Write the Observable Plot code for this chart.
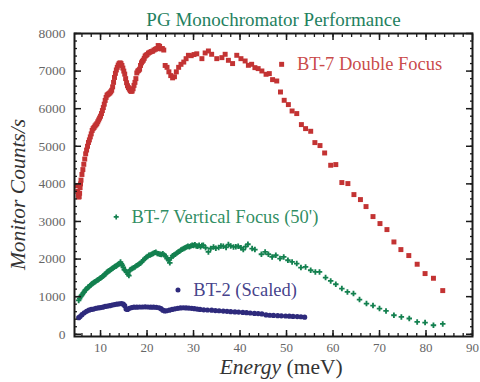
<!DOCTYPE html>
<html><head><meta charset="utf-8">
<script src="https://cdn.jsdelivr.net/npm/d3@7"></script>
<script src="https://cdn.jsdelivr.net/npm/@observablehq/plot@0.6"></script>
<style>body{margin:0;background:#fff}</style>
</head><body><div id="chart"></div>
<script>
// BT-7 Double Focus
const doubleE = [5.0,5.1,5.2,5.3,5.4,5.5,5.6,5.7,5.8,6.0,6.2,6.4,6.6,6.8,7.0,7.2,7.4,7.6,7.8,8.0,8.2,8.4,8.6,8.8,9.0,9.2,9.4,9.6,9.8,10.0,10.2,10.4,10.6,10.8,11.0,11.2,11.4,11.6,11.8,12.0,12.2,12.4,12.6,12.8,13.0,13.2,13.4,13.6,13.8,14.0,14.2,14.4,14.6,14.8,15.0,15.2,15.4,15.6,15.8,16.0,16.2,16.4,16.6,16.8,17.0,17.2,17.4,17.6,17.8,18.0,18.2,18.4,18.6,18.8,19.0,19.2,19.4,19.6,19.8,20.0,20.3,20.6,20.9,21.2,21.5,21.8,22.1,22.4,22.7,23.0,23.3,23.6,
  23.9,24.3,24.7,25.1,25.5,25.9,26.3,26.8,27.3,27.9,28.4,28.9,29.5,30.1,30.7,31.8,32.5,33.2,33.9,35.0,36.1,36.8,37.5,38.4,39.3,40.2,41.1,41.8,42.5,43.2,43.9,44.7,45.6,46.3,47.0,47.9,48.7,49.5,50.4,51.2,52.2,53.2,54.1,55.2,56.1,57.2,58.2,59.5,60.6,61.9,63.2,64.5,65.9,67.1,68.6,70.1,71.6,73.1,74.6,76.3,78.1,79.8,81.6,83.6];
const doubleC = [3950,3800,3700,3650,3660,3750,3900,4000,4100,4250,4380,4520,4660,4800,4900,5000,5100,5170,5250,5330,5420,5470,5500,5540,5570,5600,5650,5700,5750,5800,5870,5950,6030,6120,6220,6300,6360,6380,6400,6420,6450,6490,6580,6700,6830,6940,7030,7100,7160,7200,7220,7200,7150,7080,7000,6920,6800,6690,6610,6560,6520,6480,6460,6470,6530,6620,6700,6800,6950,7000,7020,7050,7150,7220,7260,7290,7340,7400,7420,7440,7480,7500,7520,7530,7560,7580,7600,7680,7660,7590,7600,7560,
  7150,7100,6980,6880,6820,6850,6980,7100,7180,7240,7330,7420,7410,7440,7460,7331,7482,7535,7447,7331,7358,7447,7287,7200,7420,7331,7269,7154,7181,7092,7066,7003,6915,6933,6773,6737,6444,6223,6109,5939,5870,5577,5470,5399,5098,5019,4822,4495,4513,4035,4008,3715,3582,3396,3130,2944,2784,2455,2252,2093,1862,1614,1489,1161];

// BT-7 Vertical Focus (50')
const verticalE = [5.3,5.5,5.7,5.9,6.1,6.3,6.5,6.7,6.9,7.1,7.3,7.5,7.7,7.9,8.1,8.3,8.5,8.7,8.9,9.1,9.3,9.5,9.7,9.9,10.1,10.3,10.5,10.7,10.9,11.1,11.3,11.5,11.7,11.9,12.1,12.3,12.5,12.7,12.9,13.1,13.3,13.5,13.7,13.9,14.1,14.3,14.5,14.7,14.9,15.1,15.3,15.6,15.9,16.1,16.3,16.5,16.8,17.1,17.4,17.7,18.0,18.3,18.6,18.9,19.2,19.5,19.8,20.1,20.4,20.7,21.0,21.3,21.6,21.9,22.2,22.5,22.8,23.1,23.4,23.7,24.0,24.3,24.6,24.9,25.2,25.5,25.8,26.1,26.4,26.7,27.0,27.3,27.6,27.9,28.2,28.5,28.8,29.1,29.4,29.7,30.0,30.3,30.6,30.9,31.2,31.5,31.8,
  32.1,32.6,33.2,33.7,34.3,34.8,35.4,35.9,36.4,37.0,37.5,38.0,38.6,39.1,39.6,40.2,40.7,41.2,41.7,42.6,43.2,44.6,45.4,46.1,46.9,47.7,48.6,49.4,50.3,51.2,52.2,53.1,54.1,55.2,56.2,57.1,58.4,59.5,60.6,61.9,63.1,64.4,65.7,67.2,68.6,70.0,71.4,73.1,74.7,76.4,78.1,79.8,81.6,83.6];
const verticalC = [900,950,1000,1030,1060,1100,1130,1170,1190,1220,1250,1260,1290,1310,1340,1350,1370,1390,1400,1420,1440,1450,1470,1490,1500,1520,1540,1560,1590,1610,1640,1660,1680,1690,1710,1730,1750,1760,1780,1800,1810,1830,1850,1860,1880,1920,1870,1830,1780,1720,1700,1650,1600,1560,1700,1720,1750,1770,1790,1820,1840,1870,1890,1930,1970,2010,2040,2070,2100,2110,2130,2150,2170,2180,2150,2140,2130,2120,2140,2110,2080,2010,1980,1900,2030,2090,2110,2130,2160,2190,2210,2240,2260,2280,2300,2320,2340,2330,2350,2370,2360,2380,2350,2340,2370,2330,2360,
  2367,2300,2189,2280,2322,2290,2306,2350,2340,2310,2386,2350,2322,2330,2340,2300,2252,2330,2394,2279,2252,2128,2189,2128,2056,2101,2013,2056,1968,1923,1880,1774,1790,1702,1657,1657,1508,1418,1330,1215,1125,1082,922,816,763,683,620,505,460,418,327,311,239,274];

// BT-2 (Scaled)
const bt2E = [5.3,5.6,6.0,6.5,7.0,7.5,8.0,8.5,9.0,9.5,10.0,10.5,11.0,11.5,12.0,12.5,13.0,13.5,14.0,14.5,14.9,15.2,15.5,15.8,16.2,16.7,17.2,17.8,18.4,19.0,19.6,20.2,20.8,21.4,22.0,22.6,23.0,23.4,23.8,24.2,24.8,25.4,26.0,26.6,27.2,27.8,28.4,29.0,29.6,30.2,30.8,31.4,
  32.2,33.0,33.9,34.7,35.5,36.4,37.2,38.0,38.9,39.7,40.6,41.4,42.2,43.1,43.9,44.7,45.6,46.4,47.2,48.1,48.9,49.8,50.6,51.4,52.3,53.1,53.9];
const bt2C = [440,470,520,570,610,640,660,670,690,700,710,720,740,750,760,775,790,800,810,815,800,760,670,660,690,710,720,720,725,725,730,725,720,720,715,705,680,640,620,625,640,660,675,690,700,705,700,695,690,680,670,660,
  650,645,640,630,625,615,610,600,595,590,580,575,565,555,550,540,515,505,500,495,490,485,480,475,470,465,455];

const xMajor = [10,20,30,40,50,60,70,80,90];
const xMinor = d3.range(6, 90, 2);
const yMajor = [0,1000,2000,3000,4000,5000,6000,7000,8000];
const yMinor = d3.range(0, 8001, 200);

const series = [
  {name: "BT-7 Double Focus", E: doubleE, C: doubleC, color: "#c33333", symbol: "square", r: 2.8, lr: 2.8, lx: 48.95, ly: 7180},
  {name: "BT-7 Vertical Focus (50')", E: verticalE, C: verticalC, color: "#13804f", symbol: "cross", r: 2.3, lr: 2.1, lx: 13.37, ly: 3120},
  {name: "BT-2 (Scaled)", E: bt2E, C: bt2C, color: "#2e2a7c", symbol: "circle", r: 2.6, lr: 2.5, lx: 26.66, ly: 1180}
];
const labelGap = 3.3; // energy units between legend marker and label

const font = "Liberation Serif, Times New Roman, serif";
const dotMarks = series.map(s => Plot.dot(s.E.map((e, i) => ({e, c: s.C[i]})),
  {x: "e", y: "c", symbol: s.symbol, r: s.r, fill: s.color, stroke: "none"}));
const legendDots = series.map(s => Plot.dot([{e: s.lx, c: s.ly}],
  {x: "e", y: "c", symbol: s.symbol, r: s.lr, fill: s.color, stroke: "none"}));
const legendText = series.map(s => Plot.text([{e: s.lx + labelGap, c: s.ly, t: s.name}],
  {x: "e", y: "c", text: "t", textAnchor: "start", fill: s.color, fontSize: 18.5, fillOpacity: 0.9}));

const tickStyle = {text: null, label: null, stroke: "#1a1a1a"};
const chart = Plot.plot({
  width: 480, height: 382,
  marginTop: 33, marginBottom: 46, marginLeft: 74, marginRight: 8,
  style: {fontFamily: font, background: "#fff"},
  x: {domain: [4.4, 90], label: null},
  y: {domain: [-60, 8000], label: null},
  marks: [
    ...dotMarks,
    ...legendDots,
    ...legendText,
    Plot.frame({stroke: "#1a1a1a", strokeWidth: 2}),
    Plot.axisX({anchor: "bottom", ticks: xMinor, tickSize: -3, strokeWidth: 1.3, ...tickStyle}),
    Plot.axisX({anchor: "top", ticks: xMinor, tickSize: -3, strokeWidth: 1.3, ...tickStyle}),
    Plot.axisX({anchor: "bottom", ticks: xMajor, tickSize: -6, strokeWidth: 1.5, ...tickStyle}),
    Plot.axisX({anchor: "top", ticks: xMajor, tickSize: -6, strokeWidth: 1.5, ...tickStyle}),
    Plot.axisX({anchor: "bottom", ticks: xMajor, tickSize: 0, tickPadding: 6, tickFormat: d => String(d), fill: "#666", fontSize: 13, label: null}),
    Plot.axisY({anchor: "left", ticks: yMinor, tickSize: -3, strokeWidth: 1.3, ...tickStyle}),
    Plot.axisY({anchor: "right", ticks: yMinor, tickSize: -3, strokeWidth: 1.3, ...tickStyle}),
    Plot.axisY({anchor: "left", ticks: yMajor, tickSize: -7, strokeWidth: 1.5, ...tickStyle}),
    Plot.axisY({anchor: "right", ticks: yMajor, tickSize: -7, strokeWidth: 1.5, ...tickStyle}),
    Plot.axisY({anchor: "left", ticks: yMajor, tickSize: 0, tickPadding: 9, tickFormat: d => String(d), fill: "#666", fontSize: 13.5, label: null}),
    Plot.text(["PG Monochromator Performance"], {frameAnchor: "top", dy: -8, lineAnchor: "bottom", fill: "#1f8160", fontSize: 19}),
    Plot.text(["Energy"], {frameAnchor: "bottom", dx: 7.5, dy: 37.5, lineAnchor: "bottom", textAnchor: "end", fontStyle: "italic", fontSize: 21.5, fill: "#333"}),
    Plot.text(["(meV)"], {frameAnchor: "bottom", dx: 13, dy: 37.5, lineAnchor: "bottom", textAnchor: "start", fontSize: 21.5, fill: "#333"}),
    Plot.text(["Monitor Counts/s"], {frameAnchor: "left", dx: -50, dy: 9.5, rotate: -90, lineAnchor: "bottom", textAnchor: "middle", fontStyle: "italic", fontSize: 21.5, fill: "#333"})
  ]
});
document.getElementById("chart").appendChild(chart);
</script></body></html>
